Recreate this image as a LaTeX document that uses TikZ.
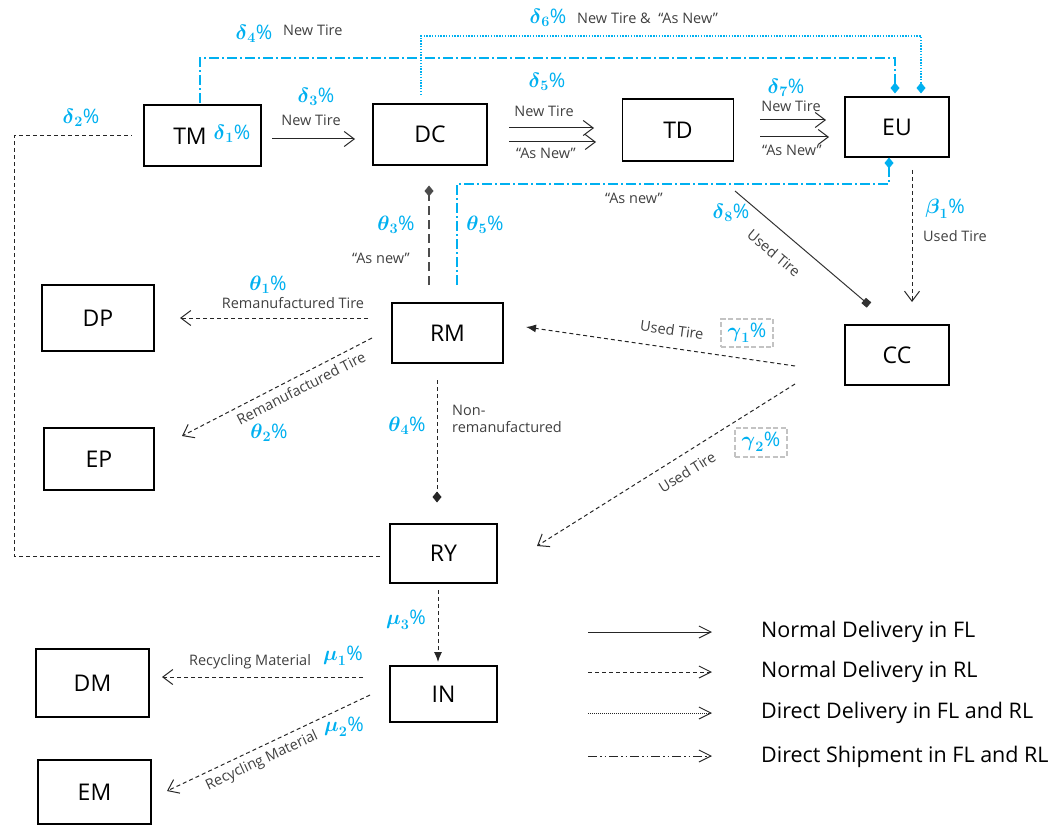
\documentclass[tikz,border=0pt]{standalone}
\usepackage{fontspec}
\setmainfont{Open Sans}
\usepackage{amsmath}
\usetikzlibrary{arrows.meta}
\definecolor{cy}{RGB}{0,176,240}
\definecolor{ink}{RGB}{64,64,64}
\definecolor{boxgray}{RGB}{195,195,195}
\newcommand{\pcnt}[2]{$\boldsymbol{#1}_{\boldsymbol{#2}}$\%}

\begin{document}
\begin{tikzpicture}[x=1pt,y=-1pt,
  box/.style={draw,line width=1.8pt,inner sep=0pt,font=\fontsize{23}{26}\selectfont},
  lbl/.style={text=ink,inner sep=0pt,font=\fontsize{14.5}{17}\selectfont},
  pct/.style={text=cy,inner sep=0pt,font=\fontsize{20}{22}\selectfont},
  legtxt/.style={anchor=west,inner sep=0pt,font=\fontsize{21.5}{24}\selectfont},
  gbox/.style={draw=boxgray,line width=2pt,dash pattern=on 5pt off 2.5pt,
    minimum width=52pt,minimum height=28pt,inner sep=0pt},
  openhd/.style={-{Straight Barb[length=10pt,width=15pt,line width=1pt]}},
  fullhd/.style={-{Latex[length=10pt,width=8pt]}},
  dmdhd/.style={-{Diamond[length=11pt,width=9pt]}},
  fl/.style={line width=1pt,draw=black!85},
  rl/.style={line width=1pt,draw=black!85,dash pattern=on 4pt off 3pt},
  dd/.style={line width=1pt,draw=black!85,dash pattern=on 1pt off 1pt},
  ds/.style={line width=1pt,dash pattern=on 9pt off 3pt on 1.5pt off 3pt on 1.5pt off 3pt},
  blueds/.style={line width=1.4pt,draw=cy,dash pattern=on 10pt off 3pt on 2pt off 3pt},
  bluedot/.style={line width=1.4pt,draw=cy,dash pattern=on 1.4pt off 1.4pt},
]
\useasboundingbox (0,0) rectangle (1059,826);

% ---------- facilities ----------
\node[box,minimum width=117pt,minimum height=61pt] (TM) at (202.5,135.5) {};
\node[inner sep=0pt,font=\fontsize{23}{26}\selectfont] (TMt) at (190,136) {TM};
\node[pct] (d1) at (232,134) {\pcnt{\delta}{1}};
\node[box,minimum width=114pt,minimum height=61pt] (DC) at (430,134.5) {DC};
\node[box,minimum width=111pt,minimum height=62pt] (TD) at (678,130) {TD};
\node[box,minimum width=104pt,minimum height=60pt] (EU) at (897,127) {EU};
\node[box,minimum width=111pt,minimum height=60pt] (RM) at (447.5,333) {RM};
\node[box,minimum width=112pt,minimum height=66pt] (DP) at (98,318) {DP};
\node[box,minimum width=110pt,minimum height=62pt] (EP) at (99,459) {EP};
\node[box,minimum width=104pt,minimum height=60pt] (CC) at (897,355) {CC};
\node[box,minimum width=107pt,minimum height=59pt] (RY) at (443.5,553.5) {RY};
\node[box,minimum width=107pt,minimum height=56pt] (IN) at (443.5,694) {IN};
\node[box,minimum width=113pt,minimum height=68pt] (DM) at (92.5,683) {DM};
\node[box,minimum width=113pt,minimum height=64pt] (EM) at (94.5,792) {EM};

% ---------- connector end points ----------
\coordinate (tmR) at (272,139);   \coordinate (dcL) at (355,139);
\coordinate (dcR1) at (509,128);  \coordinate (tdL1) at (594,128);
\coordinate (dcR2) at (509,142);  \coordinate (tdL2) at (596,142);
\coordinate (tdR1) at (760,120);  \coordinate (euL1) at (826,120);
\coordinate (tdR2) at (760,137);  \coordinate (euL2) at (829,137);
\coordinate (tmTop) at (200,103); \coordinate (euTop1) at (895,93.5);
\coordinate (dcTop) at (421,95);  \coordinate (euTop2) at (921,93.5);
\coordinate (rmTop2) at (457,285); \coordinate (euBot) at (889,157.5);
\coordinate (rmTop1) at (429,285); \coordinate (dcBot) at (429,185.5);
\coordinate (tdCorner) at (735,191); \coordinate (ccCorner) at (869,305);
\coordinate (euBot2) at (912,170); \coordinate (ccTop) at (912,302);
\coordinate (ccL1) at (795,366);  \coordinate (rmR) at (526,327);
\coordinate (ccL2) at (795,384);  \coordinate (ryR) at (537,546);
\coordinate (rmL1) at (368,318);  \coordinate (dpR) at (180,318);
\coordinate (rmL2) at (372,338);  \coordinate (epR) at (182,436);
\coordinate (rmBot) at (437,380); \coordinate (ryTop) at (437,502.5);
\coordinate (tmL) at (132,136);   \coordinate (ryL) at (380,556);
\coordinate (ryBot) at (438,590); \coordinate (inTop) at (438,662);
\coordinate (inL1) at (363,677);  \coordinate (dmR) at (162,677);
\coordinate (inL2) at (370,695);  \coordinate (emR) at (167,791);

% ---------- forward flows ----------
\draw[fl,openhd] (tmR) -- (dcL);
\draw[fl,openhd] (dcR1) -- (tdL1);
\draw[fl,openhd] (dcR2) -- (tdL2);
\draw[fl,openhd] (tdR1) -- (euL1);
\draw[fl,openhd] (tdR2) -- (euL2);

% direct shipments to the end users
\draw[blueds,-{Diamond[length=11pt,width=9pt,cy,line width=0pt]}] (tmTop) |- (895,58) -- (euTop1);
\draw[bluedot,-{Diamond[length=11pt,width=9pt,cy,line width=0pt]}] (dcTop) |- (921,36) -- (euTop2);
\draw[blueds,-{Diamond[length=11pt,width=9pt,cy,line width=0pt]}] (rmTop2) |- (889,184) -- (euBot);

% "as new" tires back to the distribution centre
\draw[line width=1.5pt,draw=black!70,dash pattern=on 9pt off 5pt,dmdhd] (rmTop1) -- (dcBot);

% used tires to collection
\draw[line width=1pt,draw=black!80,-{Square[length=7pt,width=7pt]}] (tdCorner) -- (ccCorner);
\draw[rl,openhd] (euBot2) -- (ccTop);

% reverse flows
\draw[rl,fullhd] (ccL1) -- (rmR);
\draw[rl,openhd] (ccL2) -- (ryR);
\draw[rl,openhd] (rmL1) -- (dpR);
\draw[rl,openhd] (rmL2) -- (epR);
\draw[rl,dmdhd] (rmBot) -- (ryTop);
\draw[rl,fullhd] (ryBot) -- (inTop);
\draw[rl,openhd] (inL1) -- (dmR);
\draw[rl,openhd] (inL2) -- (emR);
\draw[rl] (ryL) -| (14,136) -- (tmL);

% ---------- labels ----------
\node[pct] (d3) at (316,97) {\pcnt{\delta}{3}};
\node[lbl] (l1) at (311,120) {New Tire};
\node[pct] (d2) at (81,118) {\pcnt{\delta}{2}};
\node[pct] (d4) at (254,34) {\pcnt{\delta}{4}};
\node[lbl,anchor=west] (l2) at (283,30) {New Tire};
\node[pct] (d6) at (548,18) {\pcnt{\delta}{6}};
\node[lbl,anchor=west] (l3) at (577,18) {New Tire \&\ \ ``As New''};
\node[pct] (d5) at (547,82) {\pcnt{\delta}{5}};
\node[lbl] (l4) at (544,111) {New Tire};
\node[lbl] (l5) at (546,153) {``As New''};
\node[pct] (d7) at (786,88) {\pcnt{\delta}{7}};
\node[lbl] (l6) at (791,106) {New Tire};
\node[lbl] (l7) at (792,150) {``As New''};
\node[lbl] (l8) at (634,198) {``As new''};
\node[pct] (t3) at (396,225) {\pcnt{\theta}{3}};
\node[lbl] (l9) at (381,258) {``As new''};
\node[pct] (t5) at (485,225) {\pcnt{\theta}{5}};
\node[pct] (d8) at (731,213) {\pcnt{\delta}{8}};
\node[lbl,rotate=-40] (l10) at (774,253) {Used Tire};
\node[pct] (b1) at (945,209) {\pcnt{\beta}{1}};
\node[lbl] (l11) at (955,236) {Used Tire};
\node[lbl,rotate=-8] (l12) at (672,330) {Used Tire};
\node[gbox] (g1box) at (747,333) {};
\node[pct] (g1) at (747,333) {\pcnt{\gamma}{1}};
\node[lbl,rotate=32] (l13) at (687,472) {Used Tire};
\node[gbox,minimum height=29pt] (g2box) at (761,442) {};
\node[pct] (g2) at (761,442) {\pcnt{\gamma}{2}};
\node[pct] (t1) at (268,285) {\pcnt{\theta}{1}};
\node[lbl] (l14) at (293,303) {Remanufactured Tire};
\node[lbl,rotate=27] (l15) at (301,388) {Remanufactured Tire};
\node[pct] (t2) at (269,433) {\pcnt{\theta}{2}};
\node[pct] (t4) at (407,426) {\pcnt{\theta}{4}};
\node[lbl,anchor=west,align=left] (l16) at (452,419) {Non-\\remanufactured};
\node[pct] (m3) at (406,620) {\pcnt{\mu}{3}};
\node[lbl] (l17) at (250,662) {Recycling Material};
\node[pct] (m1) at (343,656) {\pcnt{\mu}{1}};
\node[lbl,rotate=25] (l18) at (262,761) {Recycling Material};
\node[pct] (m2) at (344,727) {\pcnt{\mu}{2}};

% ---------- legend ----------
\coordinate (k1a) at (588,632); \coordinate (k1b) at (712,632);
\coordinate (k2a) at (588,672); \coordinate (k2b) at (712,672);
\coordinate (k3a) at (588,713); \coordinate (k3b) at (712,713);
\coordinate (k4a) at (588,756); \coordinate (k4b) at (712,756);
\tikzset{leghd/.style={-{Straight Barb[length=12pt,width=12pt,line width=1pt]}}}
\draw[fl,leghd] (k1a) -- (k1b);
\draw[rl,leghd] (k2a) -- (k2b);
\draw[dd,leghd] (k3a) -- (k3b);
\draw[ds,draw=black!85,leghd] (k4a) -- (k4b);
\node[legtxt] (n1) at (761,632) {Normal Delivery in FL};
\node[legtxt] (n2) at (761,672) {Normal Delivery in RL};
\node[legtxt] (n3) at (761,713) {Direct Delivery in FL and RL};
\node[legtxt] (n4) at (761,757) {Direct Shipment in FL and RL};
\end{tikzpicture}
\end{document}
